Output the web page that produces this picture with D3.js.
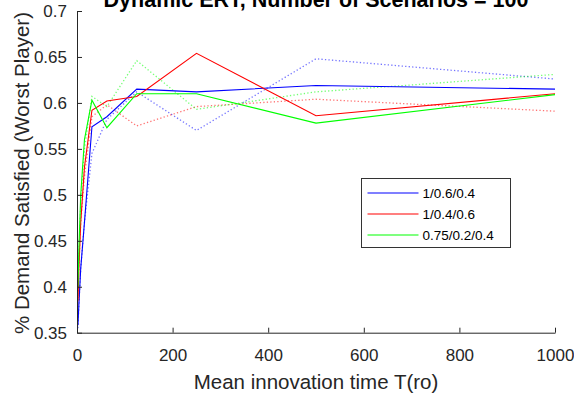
<!DOCTYPE html>
<html>
<head>
<meta charset="utf-8">
<title>demand satisfied</title>
<script src="https://d3js.org/d3.v7.min.js"></script>
<style>
  body { margin:0; background:#fff; font-family:"Liberation Sans",Arial,Helvetica,sans-serif; }
  .ax path, .ax line { stroke:#262626; }
  .ax text { fill:#262626; font-size:17px; font-family:"Liberation Sans",Arial,sans-serif; }
</style>
</head>
<body>
<svg id="chart" width="574" height="393"></svg>
<script>
// mean innovation time T(ro)
var tro = [1.95, 3.9, 7.8, 15.6, 31.25, 62.5, 125, 250, 500, 1000];

// solid runs, one per parameter set
var blueRun  = [0.358, 0.38, 0.42, 0.47, 0.574, 0.585, 0.615, 0.612, 0.619, 0.615];
var redRun   = [0.385, 0.42, 0.47, 0.53, 0.592, 0.602, 0.607, 0.654, 0.586, 0.610];
var greenRun = [0.400, 0.44, 0.50, 0.56, 0.603, 0.573, 0.610, 0.610, 0.578, 0.609];

// dotted runs, same colours
var blueDot  = [0.355, 0.38, 0.42, 0.47, 0.545, 0.582, 0.612, 0.570, 0.648, 0.626];
var redDot   = [0.380, 0.42, 0.47, 0.52, 0.585, 0.598, 0.575, 0.596, 0.604, 0.591];
var greenDot = [0.390, 0.43, 0.49, 0.55, 0.607, 0.596, 0.646, 0.593, 0.612, 0.631];

var names  = ['1/0.6/0.4', '1/0.4/0.6', '0.75/0.2/0.4'];
var colors = ['#0000ff', '#ff0000', '#00ff00'];
var xTicks = [0, 200, 400, 600, 800, 1000];
var yTicks = [0.35, 0.4, 0.45, 0.5, 0.55, 0.6, 0.65, 0.7];

var svg = d3.select('#chart');
var x = d3.scaleLinear().domain([0, 1000]).range([77, 555]);
var y = d3.scaleLinear().domain([0.35, 0.7]).range([332.7, 11]);

var line = function(vals) {
  return d3.line().x(function(d, i) { return x(tro[i]); }).y(function(d) { return y(d); })(vals);
};

// dotted ones first, they sit underneath
[blueDot, redDot, greenDot].forEach(function(s, k) {
  svg.append('path').attr('d', line(s)).attr('fill', 'none')
    .attr('stroke', colors[k]).attr('stroke-opacity', 0.55)
    .attr('stroke-width', 1.3).attr('stroke-dasharray', '1.3,2.2');
});
[blueRun, redRun, greenRun].forEach(function(s, k) {
  svg.append('path').attr('d', line(s)).attr('fill', 'none')
    .attr('stroke', colors[k]).attr('stroke-width', 1.1);
});

// axes, ticks point inward, no box
svg.append('g').attr('class', 'ax').attr('transform', 'translate(0,332.7)')
  .call(d3.axisBottom(x).tickValues(xTicks).tickFormat(function(d) { return String(d); })
    .tickSizeInner(-5).tickSizeOuter(0).tickPadding(16));
svg.append('g').attr('class', 'ax').attr('transform', 'translate(77,0)')
  .call(d3.axisLeft(y).tickValues(yTicks).tickFormat(function(d) { return +d.toFixed(2); })
    .tickSizeInner(-5).tickSizeOuter(0).tickPadding(10));

svg.append('text').attr('x', 316).attr('y', 389).attr('text-anchor', 'middle')
  .attr('fill', '#262626').style('font-size', '20.5px')
  .text('Mean innovation time T(ro)');
svg.append('text').attr('transform', 'translate(29,173) rotate(-90)').attr('text-anchor', 'middle')
  .attr('fill', '#262626').style('font-size', '20.5px')
  .text('% Demand Satisfied (Worst Player)');
svg.append('text').attr('x', 316).attr('y', 6.5).attr('text-anchor', 'middle')
  .style('font-size', '21.5px').style('font-weight', 'bold')
  .text('Dynamic ERT, Number of Scenarios = 100');

// legend
var lg = svg.append('g').attr('transform', 'translate(361.5,178.5)');
lg.append('rect').attr('width', 149).attr('height', 69)
  .attr('fill', '#fff').attr('stroke', '#333').attr('stroke-width', 1);
names.forEach(function(n, i) {
  var ly = 14.5 + i * 21;
  lg.append('line').attr('x1', 6).attr('x2', 57).attr('y1', ly).attr('y2', ly)
    .attr('stroke', colors[i]).attr('stroke-width', 1.1);
  lg.append('text').attr('x', 61).attr('y', ly + 5).style('font-size', '13.5px')
    .attr('fill', '#000').text(n);
});
</script>
</body>
</html>
